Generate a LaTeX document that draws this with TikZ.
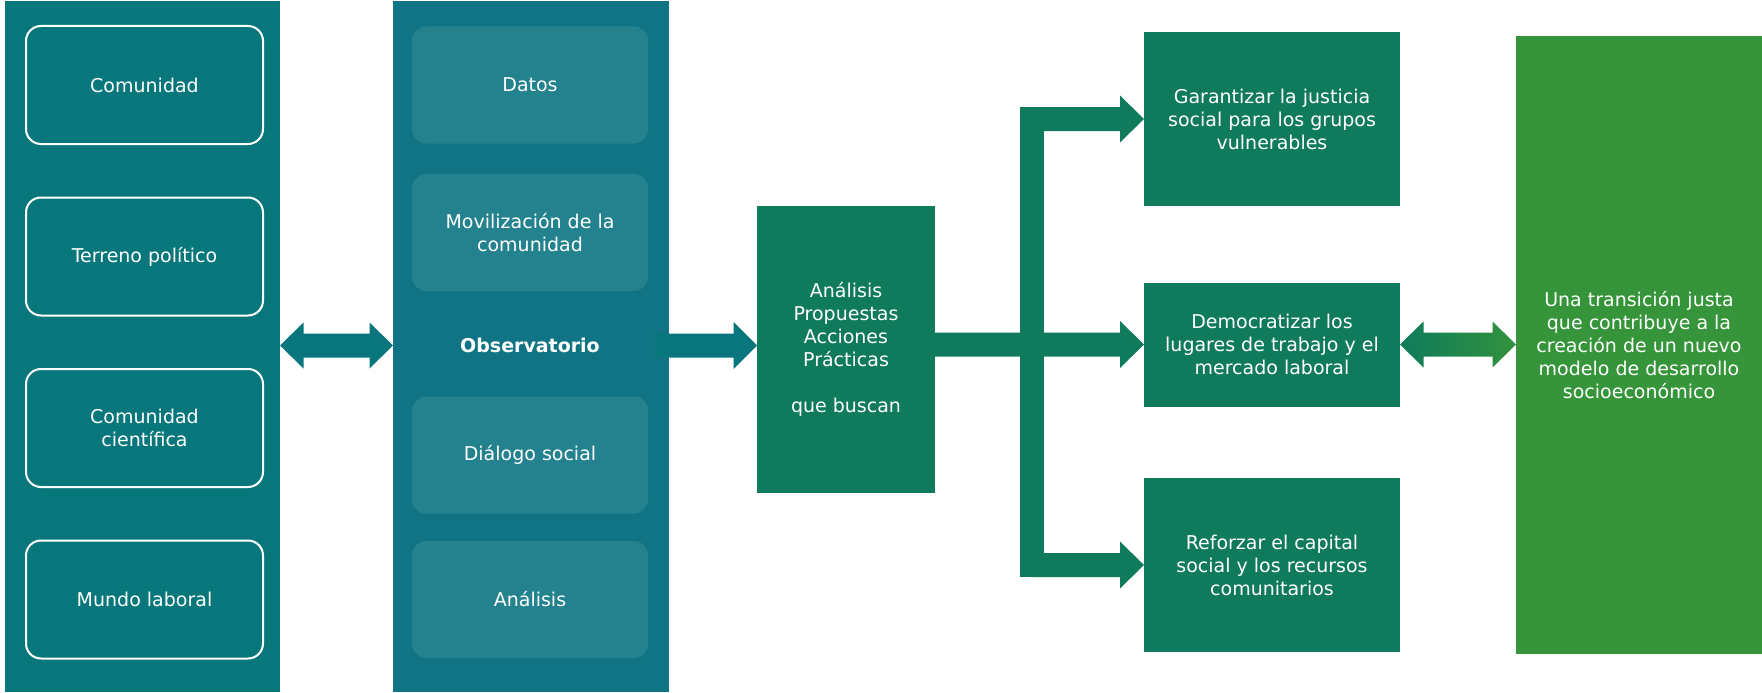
\documentclass[tikz,border=0pt]{standalone}
\usepackage{fontspec}
\setmainfont{DejaVu Sans}
\usetikzlibrary{calc}
\definecolor{lteal}{RGB}{8,119,124}
\definecolor{mteal}{RGB}{16,116,132}
\definecolor{iteal}{RGB}{36,130,143}
\definecolor{ateal}{RGB}{9,118,125}
\definecolor{dgreen}{RGB}{15,123,92}
\definecolor{lgreen}{RGB}{54,149,58}
\definecolor{ggreen}{RGB}{50,146,60}
\newcommand{\myblockarrow}[4]{%
  \path[#1] ($#2+(0,-12)$) -- ($#3+(-#4,-12)$) -- ($#3+(-#4,-23.5)$) -- #3 -- ($#3+(-#4,23.5)$) -- ($#3+(-#4,12)$) -- ($#2+(0,12)$) -- cycle;}
\newcommand{\mydoublearrow}[4]{%
  \path[#1] #2 -- ($#2+(#4,-23)$) -- ($#2+(#4,-12)$) -- ($#3+(-#4,-12)$) -- ($#3+(-#4,-23)$) -- #3 -- ($#3+(-#4,23)$) -- ($#3+(-#4,12)$) -- ($#2+(#4,12)$) -- ($#2+(#4,23)$) -- cycle;}
\tikzset{
  txt/.style={text=white, font=\fontsize{19}{23}\selectfont, align=center},
  panel/.style={inner sep=0pt, outer sep=0pt, minimum height=691pt},
  ringbox/.style={txt, draw=white, line width=2pt, rounded corners=15pt, inner sep=0pt, outer sep=0pt, minimum width=237pt, minimum height=118pt},
  softbox/.style={txt, fill=iteal, rounded corners=14pt, inner sep=0pt, outer sep=0pt, minimum width=236pt, minimum height=117pt},
  greenbox/.style={txt, fill=dgreen, inner sep=0pt, outer sep=0pt},
}
\begin{document}
\begin{tikzpicture}[x=1pt,y=-1pt]
\useasboundingbox (0,0) rectangle (1762,693);
% panels
\node[panel, fill=lteal, minimum width=275pt] (lp) at (142.5,346.5) {};
\node[panel, fill=mteal, minimum width=276pt] (mp) at (531,346.5) {};
% left boxes
\node[ringbox] (c1) at (144.5,85) {Comunidad};
\node[ringbox] (c2) at (144.5,256.5) {Terreno político};
\node[ringbox] (c3) at (144.5,428) {Comunidad\\científica};
\node[ringbox] (c4) at (144.5,599.5) {Mundo laboral};
% middle boxes
\node[softbox] (o1) at (530,85) {Datos};
\node[softbox] (o2) at (530,232.5) {Movilización de la\\comunidad};
\node[softbox] (o3) at (530,455) {Diálogo social};
\node[softbox] (o4) at (530,599.5) {Análisis};
\node[txt, font=\fontsize{19}{23}\selectfont\bfseries] (obs) at (530,345) {Observatorio};
% analysis box
\node[greenbox, minimum width=178pt, minimum height=287pt] (an) at (846,349)
  {Análisis\\Propuestas\\Acciones\\Prácticas\\[23pt]que buscan};
% goal boxes
\node[greenbox, minimum width=256pt, minimum height=174pt] (g1) at (1272,119)
  {Garantizar la justicia\\social para los grupos\\vulnerables};
\node[greenbox, minimum width=256pt, minimum height=124pt] (g2) at (1272,344.5)
  {Democratizar los\\lugares de trabajo y el\\mercado laboral};
\node[greenbox, minimum width=256pt, minimum height=174pt] (g3) at (1272,565)
  {Reforzar el capital\\social y los recursos\\comunitarios};
\node[txt, fill=lgreen, inner sep=0pt, outer sep=0pt, minimum width=246pt, minimum height=617.5pt] (big) at (1639,344.75)
  {Una transición justa\\que contribuye a la\\creación de un nuevo\\modelo de desarrollo\\socioeconómico};
% connector coordinates
\coordinate (ax) at (0,345.5);
\coordinate (a1s) at (lp.east |- ax);
\coordinate (a1e) at (mp.west |- ax);
\coordinate (a2s) at ($(mp.east |- ax)+(-14,0)$);
\coordinate (a2e) at (an.west |- ax);
\coordinate (b2s) at (an.east |- g2.west);
\coordinate (b1s) at ($(g1.west)+(-112,0)$);
\coordinate (b3s) at ($(g3.west)+(-112,0)$);
\coordinate (d1s) at (g2.east);
\coordinate (d1e) at (big.west |- g2.east);
% arrows
\mydoublearrow{fill=ateal}{(a1s)}{(a1e)}{23.5}
\myblockarrow{fill=ateal}{(a2s)}{(a2e)}{23.5}
\fill[dgreen] ($(g1.west)+(-124,-12.2)$) rectangle ($(g3.west)+(-100,12.2)$);
\myblockarrow{fill=dgreen}{(b2s)}{(g2.west)}{24}
\myblockarrow{fill=dgreen}{(b1s)}{(g1.west)}{24}
\myblockarrow{fill=dgreen}{(b3s)}{(g3.west)}{24}
\mydoublearrow{shade, left color=dgreen, right color=ggreen}{(d1s)}{(d1e)}{23.5}
\end{tikzpicture}
\end{document}
